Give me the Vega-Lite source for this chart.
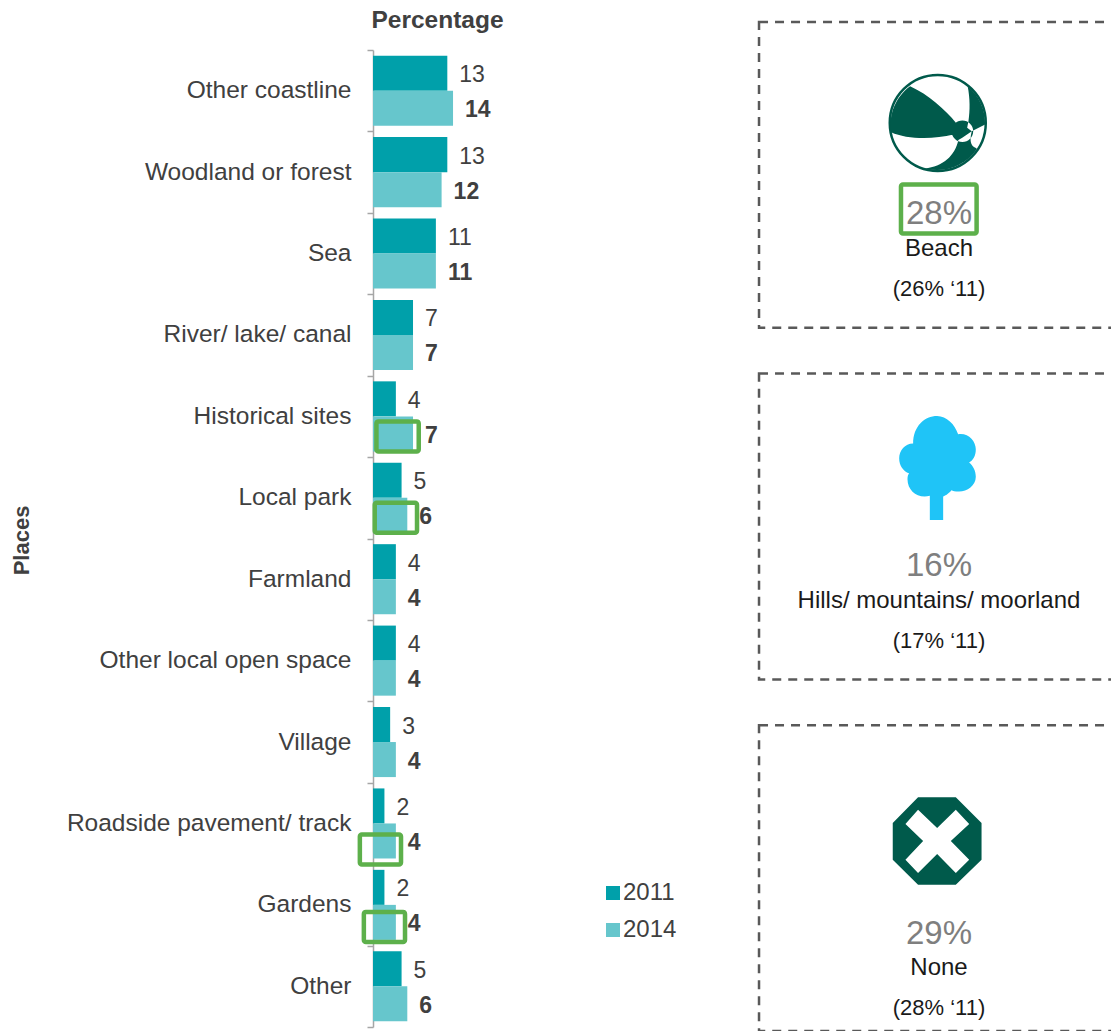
{
"$schema":"https://vega.github.io/schema/vega-lite/v6.json",
"padding":{"left":10,"top":0,"right":0,"bottom":0},
"background":"white",
"spacing":0,
"config":{"view":{"stroke":null},"font":"Liberation Sans","concat":{"spacing":0}},
"datasets":{
"bars":[
{"place":"Other coastline","year":"2011","pct":13},{"place":"Other coastline","year":"2014","pct":14},
{"place":"Woodland or forest","year":"2011","pct":13},{"place":"Woodland or forest","year":"2014","pct":12},
{"place":"Sea","year":"2011","pct":11},{"place":"Sea","year":"2014","pct":11},
{"place":"River/ lake/ canal","year":"2011","pct":7},{"place":"River/ lake/ canal","year":"2014","pct":7},
{"place":"Historical sites","year":"2011","pct":4},{"place":"Historical sites","year":"2014","pct":7},
{"place":"Local park","year":"2011","pct":5},{"place":"Local park","year":"2014","pct":6},
{"place":"Farmland","year":"2011","pct":4},{"place":"Farmland","year":"2014","pct":4},
{"place":"Other local open space","year":"2011","pct":4},{"place":"Other local open space","year":"2014","pct":4},
{"place":"Village","year":"2011","pct":3},{"place":"Village","year":"2014","pct":4},
{"place":"Roadside pavement/ track","year":"2011","pct":2},{"place":"Roadside pavement/ track","year":"2014","pct":4},
{"place":"Gardens","year":"2011","pct":2},{"place":"Gardens","year":"2014","pct":4},
{"place":"Other","year":"2011","pct":5},{"place":"Other","year":"2014","pct":6}],
"boxes":[
{"place":"Historical sites","from":0.6,"to":8.0},
{"place":"Local park","from":0.3,"to":7.7},
{"place":"Roadside pavement/ track","from":-2.3,"to":4.9},
{"place":"Gardens","from":-1.6,"to":5.6}],
"panels":[
{"panel":"Beach","share":"28%","note":"(26% ‘11)"},
{"panel":"Hills/ mountains/  moorland","share":"16%","note":"(17% ‘11)"},
{"panel":"None","share":"29%","note":"(28% ‘11)"}]
},
"hconcat":[
{"width":327,"height":1021,
"encoding":{
"y":{"field":"place","type":"nominal","scale":{"domain":["Other coastline","Woodland or forest","Sea","River/ lake/ canal","Historical sites","Local park","Farmland","Other local open space","Village","Roadside pavement/ track","Gardens","Other"],"range":[37,1014],"padding":0},
"axis":{"title":"Places","titleFontSize":22,"titleFontWeight":"bold","titleColor":"#404040","titleX":-340,"titleY":527,"labelFontSize":24.5,"labelColor":"#404040","labelPadding":16,"labelLimit":400,"tickBand":"extent","tickSize":6,"tickColor":"#A6A6A6","tickWidth":1.5,"domainColor":"#A6A6A6","domainWidth":1.5}},
"x":{"field":"pct","type":"quantitative","scale":{"domain":[0,57.2],"nice":false},
"axis":{"orient":"top","title":"Percentage","titleFontSize":24.5,"titleFontWeight":"bold","titleColor":"#404040","titleX":64,"titleY":14,"titleBaseline":"alphabetic","titleAlign":"center","labels":false,"ticks":false,"domain":false,"grid":false}}
},
"layer":[
{"data":{"name":"bars"},"mark":{"type":"bar"},
"encoding":{"yOffset":{"field":"year","type":"nominal","scale":{"paddingInner":0,"paddingOuter":0.162}},"color":{"field":"year","type":"nominal","scale":{"domain":["2011","2014"],"range":["#00A0AA","#66C6CC"]},
"legend":{"title":null,"orient":"none","legendX":228,"legendY":868,"symbolType":"square","symbolSize":196,"labelFontSize":24,"labelColor":"#404040","rowPadding":13,"symbolStrokeWidth":0,"labelOffset":-2}}}},
{"data":{"name":"bars"},"transform":[{"filter":"datum.year=='2011'"}],"mark":{"type":"text","align":"left","dx":12,"dy":2,"fontSize":23,"color":"#404040"},"encoding":{"yOffset":{"field":"year","type":"nominal","scale":{"domain":["2011","2014"],"paddingInner":0,"paddingOuter":0.162}},"text":{"field":"pct","type":"quantitative"}}},
{"data":{"name":"bars"},"transform":[{"filter":"datum.year=='2014'"}],"mark":{"type":"text","align":"left","dx":12,"dy":2,"fontSize":23,"fontWeight":"bold","color":"#404040"},"encoding":{"yOffset":{"field":"year","type":"nominal","scale":{"domain":["2011","2014"],"paddingInner":0,"paddingOuter":0.162}},"text":{"field":"pct","type":"quantitative"}}},
{"data":{"name":"boxes"},"transform":[{"filter":"datum.place=='Historical sites'||datum.place=='Local park'"}],"mark":{"type":"rect","height":30,"yOffset":20,"fill":null,"stroke":"#5DB04B","strokeWidth":4.5,"cornerRadius":2,"clip":false},
"encoding":{"x":{"field":"from","type":"quantitative"},"x2":{"field":"to"}}},
{"data":{"name":"boxes"},"transform":[{"filter":"datum.place=='Roadside pavement/ track'"}],"mark":{"type":"rect","height":30,"yOffset":26,"fill":null,"stroke":"#5DB04B","strokeWidth":4.5,"cornerRadius":2,"clip":false},
"encoding":{"x":{"field":"from","type":"quantitative"},"x2":{"field":"to"}}},
{"data":{"name":"boxes"},"transform":[{"filter":"datum.place=='Gardens'"}],"mark":{"type":"rect","height":30,"yOffset":22,"fill":null,"stroke":"#5DB04B","strokeWidth":4.5,"cornerRadius":2,"clip":false},
"encoding":{"x":{"field":"from","type":"quantitative"},"x2":{"field":"to"}}}
]},
{"width":411,"height":1021,"data":{"name":"panels"},
"encoding":{
"y":{"field":"panel","type":"nominal","axis":null,"scale":{"domain":["Beach","Hills/ mountains/  moorland","None"],"range":[9,1018],"paddingInner":0.13,"paddingOuter":0}}
},
"layer":[
{"mark":{"type":"rect","fill":null,"stroke":"#595959","strokeWidth":2.5,"strokeDash":[9,7],"clip":true},
"encoding":{"x":{"datum":14.36,"type":"quantitative","scale":{"domain":[0,100],"nice":false},"axis":null},"x2":{"datum":120}}},
{"transform":[{"filter":"datum.panel!='None'"}],"mark":{"type":"text","dy":39,"fontSize":33,"color":"#7F7F7F"},"encoding":{"x":{"datum":58.15,"type":"quantitative"},"text":{"field":"share"}}},
{"transform":[{"filter":"datum.panel!='None'"}],"mark":{"type":"text","dy":74,"fontSize":24,"color":"#1A1A1A"},"encoding":{"x":{"datum":58.15,"type":"quantitative"},"text":{"field":"panel"}}},
{"transform":[{"filter":"datum.panel!='None'"}],"mark":{"type":"text","dy":114,"fontSize":22,"color":"#1A1A1A"},"encoding":{"x":{"datum":58.15,"type":"quantitative"},"text":{"field":"note"}}},
{"transform":[{"filter":"datum.panel=='None'"}],"mark":{"type":"text","dy":56,"fontSize":33,"color":"#7F7F7F"},"encoding":{"x":{"datum":58.15,"type":"quantitative"},"text":{"field":"share"}}},
{"transform":[{"filter":"datum.panel=='None'"}],"mark":{"type":"text","dy":90,"fontSize":24,"color":"#1A1A1A"},"encoding":{"x":{"datum":58.15,"type":"quantitative"},"text":{"field":"panel"}}},
{"transform":[{"filter":"datum.panel=='None'"}],"mark":{"type":"text","dy":130,"fontSize":22,"color":"#1A1A1A"},"encoding":{"x":{"datum":58.15,"type":"quantitative"},"text":{"field":"note"}}},
{"transform":[{"filter":"datum.panel=='Beach'"}],"mark":{"type":"rect","height":49,"yOffset":34,"fill":null,"stroke":"#5DB04B","strokeWidth":4.5,"cornerRadius":2},
"encoding":{"x":{"datum":48.9,"type":"quantitative"},"x2":{"datum":67.3}}},
{"transform":[{"filter":"datum.panel=='Beach'"}],"mark":{"type":"point","shape":"M-1,0A1,1 0 1,1 1,0A1,1 0 1,1 -1,0Z","size":9216,"filled":false,"fill":"white","stroke":"#005A4B","strokeWidth":2.5,"opacity":1,"yOffset":-52},"encoding":{"x":{"datum":57.85,"type":"quantitative"}}},
{"transform":[{"filter":"datum.panel=='Beach'"}],"mark":{"type":"point","shape":"M-.565,-.748C-.19,-.578 .15,-.272 .374,0L.32,.238C-.088,.34 -.633,.34 -.952,.19A.98,.98 0 0 1 -.565,-.748ZM.61,-.75C.66,-.5 .66,-.25 .626,-.034L.6,.1L.694,.17L.966,.03A.98,.98 0 0 0 .61,-.75ZM.723,.17A.22,.22 0 1 1 .283,.17A.22,.22 0 1 1 .723,.17ZM.42,.35C.35,.68 .1,.89 -.26,.93A.98,.98 0 0 0 .8,.53L.78,.51C.66,.47 .65,.34 .694,.17L.5,.3Z","size":9604,"filled":true,"fill":"#005A4B","opacity":1,"strokeWidth":0,"yOffset":-52},"encoding":{"x":{"datum":57.85,"type":"quantitative"}}},
{"transform":[{"filter":"datum.panel=='Hills/ mountains/  moorland'"}],"mark":{"type":"point","shape":"M-.14,1.006L-.14,.541C-.363,.605 -.567,.446 -.567,.223C-.567,.16 -.554,.13 -.535,.115C-.65,.064 -.726,-.032 -.726,-.178C-.726,-.318 -.618,-.459 -.459,-.459C-.459,-.796 -.236,-.987 0,-.987C.178,-.987 .338,-.828 .401,-.637C.592,-.669 .739,-.51 .739,-.35C.739,-.223 .688,-.14 .611,-.096C.688,-.032 .739,.064 .739,.178C.739,.35 .573,.459 .42,.459C.338,.459 .3,.45 .274,.433C.21,.51 .146,.541 .115,.554L.115,1.006Z","size":10942,"filled":true,"fill":"#1FC4F7","opacity":1,"strokeWidth":0,"yOffset":-59},"encoding":{"x":{"datum":57.7,"type":"quantitative"}}},
{"transform":[{"filter":"datum.panel=='None'"}],"mark":{"type":"point","shape":"M-.43,-.985L.42,-.985L1,-.406L1,.42L.42,.985L-.43,.985L-1,.42L-1,-.406ZM-.714,-.383L-.316,0L-.714,.42L-.43,.722L0,.293L.42,.722L.722,.42L.308,0L.722,-.383L.42,-.707L0,-.293L-.43,-.707Z","size":7885,"filled":true,"fill":"#005A4B","opacity":1,"strokeWidth":0,"yOffset":-37},"encoding":{"x":{"datum":57.7,"type":"quantitative"}}}
]}
]
}
